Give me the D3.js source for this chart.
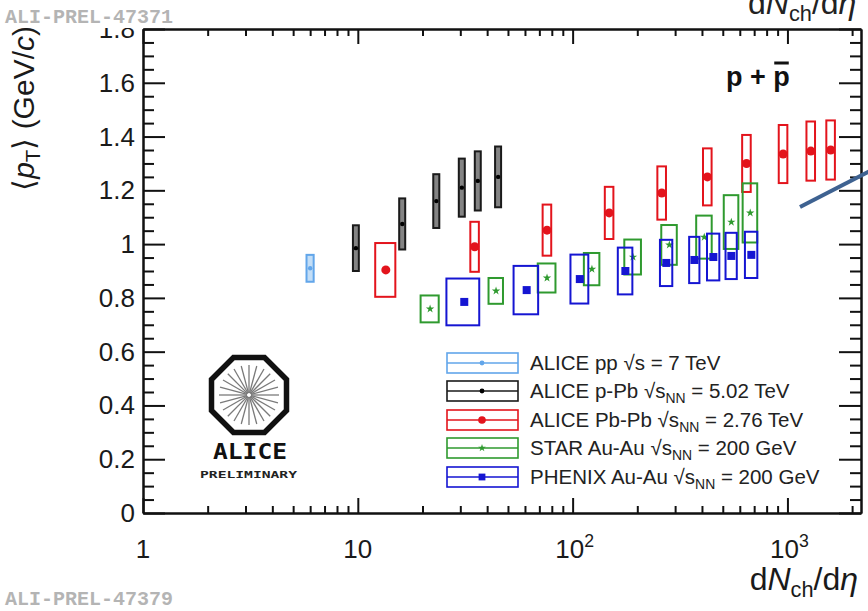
<!DOCTYPE html>
<html>
<head>
<meta charset="utf-8">
<script src="https://cdn.jsdelivr.net/npm/d3@7"></script>
<style>
  body { margin: 0; background: #fff; }
  svg { display: block; font-family: "Liberation Sans", Arial, sans-serif; }
</style>
</head>
<body>
<svg id="chart" width="868" height="611"></svg>
<script>
// values: dNch/deta, <pT>, systematic half-widths
const ppX = [6.0];
const ppY = [0.91];
const ppSysX = [0.23];
const ppSysY = [0.05];

const pPbX = [9.8, 16.1, 23.2, 30.5, 36.2, 45.0];
const pPbY = [0.985, 1.075, 1.16, 1.21, 1.235, 1.25];
const pPbSysX = [0.31, 0.52, 0.75, 0.98, 1.16, 1.45];
const pPbSysY = [0.085, 0.095, 0.10, 0.108, 0.11, 0.113];

const PbPbX = [13.5, 35, 76, 148, 260, 424, 645, 955, 1285, 1590];
const PbPbY = [0.904, 0.99, 1.052, 1.116, 1.19, 1.25, 1.30, 1.335, 1.346, 1.35];
const PbPbSysX = [1.45, 1.6, 3.5, 6.8, 12, 19.5, 29.6, 44, 59, 73];
const PbPbSysY = [0.10, 0.093, 0.095, 0.097, 0.099, 0.106, 0.106, 0.108, 0.11, 0.11];

const starX = [21.7, 44, 76, 123, 191, 282, 410, 548, 671];
const starY = [0.759, 0.826, 0.874, 0.907, 0.952, 0.997, 1.026, 1.082, 1.116];
const starSysX = [2.1, 3.4, 7.2, 10.2, 17, 23.4, 34, 42.7, 52.3];
const starSysY = [0.05, 0.048, 0.054, 0.06, 0.065, 0.074, 0.08, 0.10, 0.11];

const phenixX = [31.3, 61.1, 108, 176, 273, 369, 452, 548, 679];
const phenixY = [0.785, 0.829, 0.87, 0.90, 0.93, 0.941, 0.952, 0.956, 0.96];
const phenixSysX = [5.45, 8.0, 10.3, 13.7, 18, 20.3, 29.8, 33, 45];
const phenixSysY = [0.087, 0.09, 0.091, 0.087, 0.086, 0.086, 0.087, 0.086, 0.086];

const xMajor = [1, 10, 100, 1000];
const xTickLabels = [["1"], ["10"], ["10", "2"], ["10", "3"]];
const yMajor = [0, 0.2, 0.4, 0.6, 0.8, 1, 1.2, 1.4, 1.6, 1.8];
const yTickLabels = ["0", "0.2", "0.4", "0.6", "0.8", "1", "1.2", "1.4", "1.6", "1.8"];

// legend text pieces: [text, kind]
const legendLabels = [
  [["ALICE pp \u221As = 7 TeV", "n"]],
  [["ALICE p-Pb \u221As", "n"], ["NN", "sub"], [" = 5.02 TeV", "n"]],
  [["ALICE Pb-Pb \u221As", "n"], ["NN", "sub"], [" = 2.76 TeV", "n"]],
  [["STAR Au-Au \u221As", "n"], ["NN", "sub"], [" = 200 GeV", "n"]],
  [["PHENIX Au-Au \u221As", "n"], ["NN", "sub"], [" = 200 GeV", "n"]]
];

const series = [
  { x: ppX, y: ppY, sx: ppSysX, sy: ppSysY, stroke: "#62a6ea", fill: "#b9d8f6", mark: "dot", ms: 2.2 },
  { x: pPbX, y: pPbY, sx: pPbSysX, sy: pPbSysY, stroke: "#1a1a1a", fill: "#6e6e6e", mark: "dot", ms: 2.2 },
  { x: PbPbX, y: PbPbY, sx: PbPbSysX, sy: PbPbSysY, stroke: "#e3141c", fill: "none", mark: "circle", ms: 4.5 },
  { x: starX, y: starY, sx: starSysX, sy: starSysY, stroke: "#2f9a2f", fill: "none", mark: "star", ms: 22 },
  { x: phenixX, y: phenixY, sx: phenixSysX, sy: phenixSysY, stroke: "#1515d2", fill: "none", mark: "square", ms: 8 }
];

const svg = d3.select("#chart");
const mLeft = 143, mRight = 861, mTop = 29, mBottom = 513;

const x = d3.scaleLog().domain([1, 2200]).range([mLeft, mRight]);
const y = d3.scaleLinear().domain([0, 1.8]).range([mBottom, mTop]);

function rich(sel, parts) {
  parts.forEach(([t, k]) => {
    const ts = sel.append("tspan").text(t);
    if (k === "sub") ts.attr("font-size", "0.68em").attr("dy", "0.3em");
    else if (k === "i") ts.attr("font-style", "italic");
    else if (k === "after") ts.attr("dy", "-0.2em");
  });
}

// upper-figure remnants
svg.append("text").attr("x", 5).attr("y", 23)
  .attr("font-family", "Liberation Mono, monospace").attr("font-weight", "bold")
  .attr("font-size", 20).attr("fill", "#b4b4b4").text("ALI-PREL-47371");
const topLab = svg.append("text").attr("x", 748).attr("y", 14)
  .attr("font-size", 32).attr("fill", "#222");
rich(topLab, [["d", "n"], ["N", "i"], ["ch", "sub"], ["/d", "after"], ["\u03B7", "i"]]);
svg.append("text").attr("x", 5).attr("y", 605)
  .attr("font-family", "Liberation Mono, monospace").attr("font-weight", "bold")
  .attr("font-size", 20).attr("fill", "#b4b4b4").text("ALI-PREL-47379");

// axes: ticks point inward on all four sides
function drawAxis(axis, tr) {
  const g = svg.append("g").attr("transform", tr).call(axis);
  g.selectAll("path,line").attr("stroke", "#111").attr("stroke-width", 2);
  g.selectAll("text").remove();
  return g;
}
const xMinor = [];
[1, 10, 100, 1000].forEach(d => { for (let k = 2; k <= 9; k++) if (d * k <= 2200) xMinor.push(d * k); });
const yMinor = d3.range(0, 37).map(i => +(i * 0.05).toFixed(2)).filter(v => !yMajor.some(m => Math.abs(m - v) < 1e-6));

drawAxis(d3.axisBottom(x).tickValues(xMinor).tickSizeInner(-7).tickSizeOuter(0), `translate(0,${mBottom})`);
drawAxis(d3.axisBottom(x).tickValues(xMajor).tickSizeInner(-15).tickSizeOuter(0), `translate(0,${mBottom})`);
drawAxis(d3.axisTop(x).tickValues(xMinor).tickSizeInner(-7).tickSizeOuter(0), `translate(0,${mTop})`);
drawAxis(d3.axisTop(x).tickValues(xMajor).tickSizeInner(-15).tickSizeOuter(0), `translate(0,${mTop})`);
drawAxis(d3.axisLeft(y).tickValues(yMinor).tickSizeInner(-11).tickSizeOuter(0), `translate(${mLeft},0)`);
drawAxis(d3.axisLeft(y).tickValues(yMajor).tickSizeInner(-22).tickSizeOuter(0), `translate(${mLeft},0)`);
drawAxis(d3.axisRight(y).tickValues(yMinor).tickSizeInner(-11).tickSizeOuter(0), `translate(${mRight},0)`);
drawAxis(d3.axisRight(y).tickValues(yMajor).tickSizeInner(-22).tickSizeOuter(0), `translate(${mRight},0)`);

// tick labels (the top one is half hidden under the upper figure, as in the slide)
svg.append("clipPath").attr("id", "yclip").append("rect")
  .attr("x", 0).attr("y", mTop - 1).attr("width", mLeft).attr("height", 600);
svg.append("g").attr("clip-path", "url(#yclip)")
  .selectAll("text").data(yMajor).join("text")
  .attr("x", 135).attr("y", d => y(d) + 9)
  .attr("text-anchor", "end").attr("font-size", 26).attr("fill", "#1a1a1a")
  .text((d, i) => yTickLabels[i]);

xMajor.forEach((d, i) => {
  const t = svg.append("text").attr("x", x(d) + (i > 1 ? 2 : 0)).attr("y", 558)
    .attr("text-anchor", "middle").attr("font-size", 26).attr("fill", "#1a1a1a");
  const p = xTickLabels[i];
  t.append("tspan").text(p[0]);
  if (p[1]) t.append("tspan").attr("font-size", "0.68em").attr("dy", "-0.6em").text(p[1]);
});

// axis titles
const xt = svg.append("text").attr("x", 858).attr("y", 590)
  .attr("text-anchor", "end").attr("font-size", 32).attr("fill", "#1a1a1a");
rich(xt, [["d", "n"], ["N", "i"], ["ch", "sub"], ["/d", "after"], ["\u03B7", "i"]]);

const yt = svg.append("text").attr("transform", "translate(34,26) rotate(-90)")
  .attr("text-anchor", "end").attr("font-size", 30).attr("fill", "#1a1a1a");
rich(yt, [["\u27E8", "n"], ["p", "i"], ["T", "sub"], ["\u27E9 (GeV/", "after"], ["c", "i"], [")", "n"]]);

// p + pbar
const ppT = svg.append("text").attr("x", 726).attr("y", 86)
  .attr("font-size", 27).attr("font-weight", "bold").attr("fill", "#111")
  .attr("xml:space", "preserve").text("p + p");
const n = ppT.node();
const s0 = n.getStartPositionOfChar(4).x, s1 = n.getEndPositionOfChar(4).x;
svg.append("line").attr("x1", s0 + 1).attr("x2", s1 - 1)
  .attr("y1", 63).attr("y2", 63).attr("stroke", "#111").attr("stroke-width", 3);

// markers
function marker(g, s, cx, cy, scale) {
  const k = scale || 1;
  if (s.mark === "circle") {
    g.append("circle").attr("cx", cx).attr("cy", cy).attr("r", s.ms * k).attr("fill", s.stroke);
  } else if (s.mark === "square") {
    g.append("rect").attr("x", cx - s.ms * k / 2).attr("y", cy - s.ms * k / 2)
      .attr("width", s.ms * k).attr("height", s.ms * k).attr("fill", s.stroke);
  } else if (s.mark === "star") {
    g.append("path").attr("d", d3.symbol(d3.symbolStar, s.ms * k)())
      .attr("transform", `translate(${cx},${cy})`).attr("fill", s.stroke);
  } else {
    g.append("circle").attr("cx", cx).attr("cy", cy).attr("r", s.ms * k).attr("fill", s.stroke === "#1a1a1a" ? "#000" : s.stroke);
  }
}

// data: systematic boxes and markers
series.forEach(s => {
  const g = svg.append("g");
  s.x.forEach((xv, i) => {
    const x0 = x(xv - s.sx[i]), x1 = x(xv + s.sx[i]);
    const y0 = y(s.y[i] + s.sy[i]), y1 = y(s.y[i] - s.sy[i]);
    g.append("rect").attr("x", x0).attr("y", y0)
      .attr("width", x1 - x0).attr("height", y1 - y0)
      .attr("fill", s.fill).attr("fill-opacity", s.fill === "none" ? 0 : 0.85)
      .attr("stroke", s.stroke).attr("stroke-width", 2);
    marker(g, s, x(xv), y(s.y[i]));
  });
});

// annotation line from the slide
svg.append("line").attr("x1", 800).attr("y1", 207).attr("x2", 870).attr("y2", 171)
  .attr("stroke", "#3e6291").attr("stroke-width", 4);

// legend
const legY = [363, 391, 420, 448, 477];
series.forEach((s, i) => {
  const g = svg.append("g");
  const cy = legY[i];
  g.append("rect").attr("x", 447).attr("y", cy - 10).attr("width", 71).attr("height", 20)
    .attr("fill", "none").attr("stroke", s.stroke).attr("stroke-width", 1.6);
  g.append("line").attr("x1", 447).attr("x2", 518).attr("y1", cy).attr("y2", cy)
    .attr("stroke", s.stroke).attr("stroke-width", 1.6);
  marker(g, s, 482, cy, s.mark === "dot" ? 1.1 : 0.85);
  const t = g.append("text").attr("x", 530).attr("y", cy + 7)
    .attr("font-size", 20.5).attr("fill", "#222");
  legendLabels[i].forEach(([txt, k]) => {
    if (k === "sub") {
      t.append("tspan").attr("font-size", "0.68em").attr("dy", "0.35em").text(txt);
    } else {
      const ts = t.append("tspan").text(txt);
      if (i > 0 && txt.startsWith(" =")) ts.attr("dy", "-0.24em");
    }
  });
});

// ALICE logo
const logo = svg.append("g").attr("transform", "translate(249,395)");
const R = 37.5 / Math.cos(Math.PI / 8);
const oct = d3.range(8).map(i => {
  const a = Math.PI / 8 + i * Math.PI / 4;
  return [R * Math.cos(a), R * Math.sin(a)];
});
d3.range(24).forEach(i => {
  const a = i * Math.PI / 12;
  logo.append("line").attr("x1", 2 * Math.cos(a)).attr("y1", 2 * Math.sin(a))
    .attr("x2", 30 * Math.cos(a)).attr("y2", 30 * Math.sin(a))
    .attr("stroke", "#7a7a7a").attr("stroke-width", 1.3);
});
logo.append("path").attr("d", d3.line()(oct) + "Z")
  .attr("fill", "none").attr("stroke", "#111").attr("stroke-width", 5.5);
svg.append("text").attr("x", 213).attr("y", 459)
  .attr("font-family", "DejaVu Sans Mono, monospace").attr("font-weight", "bold")
  .attr("font-size", 22).attr("textLength", 74).attr("lengthAdjust", "spacingAndGlyphs")
  .attr("fill", "#111").text("ALICE");
svg.append("text").attr("x", 200).attr("y", 478)
  .attr("font-family", "DejaVu Sans Mono, monospace").attr("font-weight", "bold")
  .attr("font-size", 9.5).attr("textLength", 97).attr("lengthAdjust", "spacingAndGlyphs")
  .attr("fill", "#222").text("PRELIMINARY");
</script>
</body>
</html>
